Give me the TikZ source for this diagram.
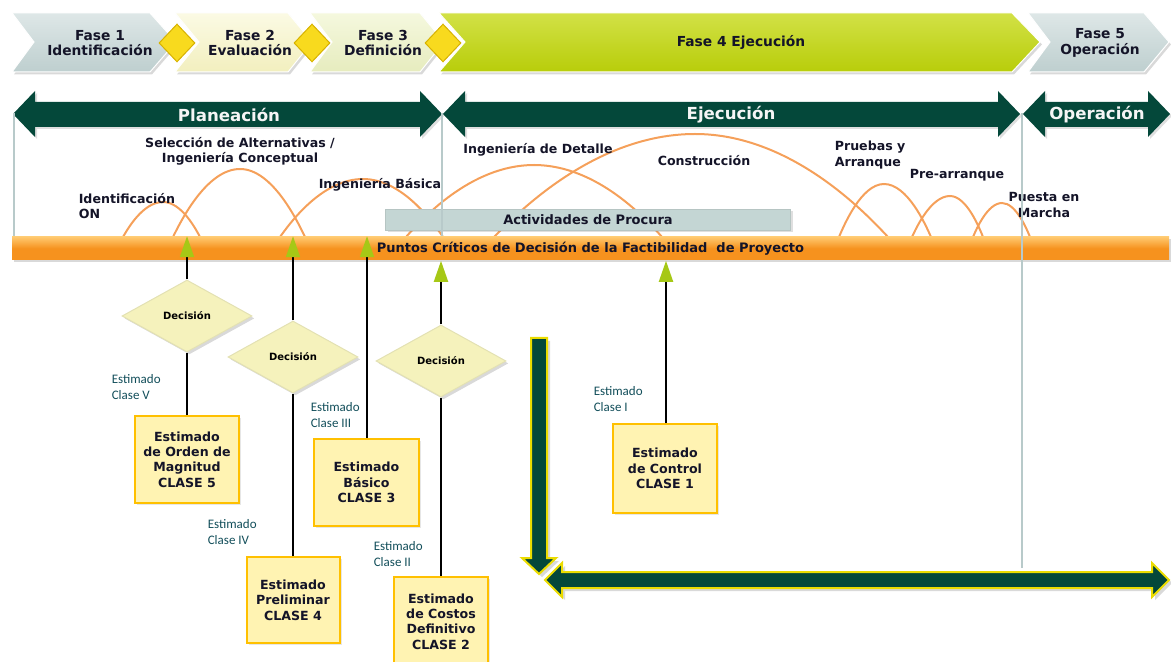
\documentclass[tikz,border=0pt]{standalone}
\usepackage{fontspec}
\setmainfont{DejaVu Sans}
\newfontfamily\calfont{Carlito}
\usetikzlibrary{shapes.geometric,
arrows.meta,
shadows,
calc,
positioning}

\definecolor{phasegray}{RGB}{190,207,207}
\definecolor{phasegraylt}{RGB}{222,231,231}
\definecolor{phasecream}{RGB}{242,239,190}
\definecolor{phasecreamlt}{RGB}{251,250,228}
\definecolor{phasepale}{RGB}{230,236,190}
\definecolor{phasepalelt}{RGB}{245,248,222}
\definecolor{phasegreen}{RGB}{184,205,10}
\definecolor{phasegreenlt}{RGB}{210,225,70}
\definecolor{gemyellow}{RGB}{248,218,30}
\definecolor{gemedge}{RGB}{215,178,0}
\definecolor{darkgreen}{RGB}{4,72,58}
\definecolor{framegray}{RGB}{184,202,202}
\definecolor{barorange}{RGB}{246,146,30}
\definecolor{barorangelt}{RGB}{255,200,110}
\definecolor{arcorange}{RGB}{245,160,90}
\definecolor{procuragray}{RGB}{196,214,212}
\definecolor{tipgreen}{RGB}{166,200,22}
\definecolor{deccream}{RGB}{245,242,188}
\definecolor{boxfill}{RGB}{255,243,178}
\definecolor{boxedge}{RGB}{255,192,0}
\definecolor{labelteal}{RGB}{18,78,90}
\definecolor{arrowedge}{RGB}{235,220,0}
\definecolor{textdark}{RGB}{20,20,40}

\begin{document}
\begin{tikzpicture} [x=0.5pt, y=-0.5pt,
    >=latex,
    thick,
    chevron/.style={draw=white, line width=0.5pt,
        drop shadow={opacity=0.3, shadow xshift=1pt, shadow yshift=-1.2pt}},
    gem/.style={diamond, fill=gemyellow, draw=gemedge, line width=0.5pt,
        inner sep=0pt, minimum width=18pt, minimum height=19pt},
    phase text/.style={align=center, text=textdark,
        font=\fontsize{6.9}{7.6}\selectfont\bfseries},
    span arrow/.style={fill=darkgreen,
        drop shadow={opacity=0.25, shadow xshift=1pt, shadow yshift=-1pt}},
    span text/.style={text=gray!8, font=\fontsize{8.3}{9}\selectfont\bfseries},
    frame line/.style={draw=framegray, line width=1.2pt},
    activity/.style={draw=arcorange, line width=1pt},
    activity text/.style={align=center, text=textdark, inner sep=0pt,
        font=\fontsize{6.3}{7.6}\selectfont\bfseries},
    decision/.style={diamond, fill=deccream, draw=deccream!85!gray,
        line width=0.5pt, inner sep=0pt,
        minimum width=65pt, minimum height=36pt,
        font=\fontsize{5}{6}\selectfont\bfseries,
        drop shadow={opacity=0.3, shadow xshift=1.2pt, shadow yshift=-1.2pt}},
    estimate/.style={rectangle, fill=boxfill, draw=boxedge, line width=1pt,
        align=center, inner sep=1pt, text=textdark,
        font=\fontsize{6.3}{7.7}\selectfont\bfseries,
        drop shadow={opacity=0.2, shadow xshift=1pt, shadow yshift=-1pt}},
    class label/.style={align=left, anchor=west, inner sep=0pt, text=labelteal,
        font=\calfont\fontsize{6.5}{8}\selectfont},
    link/.style={draw=black, line width=1pt},
    link tip/.style={link, -{Triangle[length=10.5pt, width=7pt, color=tipgreen, fill=tipgreen]}},
    big arrow/.style={fill=darkgreen, draw=arrowedge, line width=1pt,
        drop shadow={opacity=0.3, shadow xshift=1.5pt, shadow yshift=-1.5pt}}
  ]

  \useasboundingbox (0,0) rectangle (1171,662);

  %%%%%%%%%%%%%%%%%%%%%%%%%%%%%% phases

  \path[chevron, top color=phasegraylt, bottom color=phasegray]
  (12,13) -- (150,13) -- (176,42) -- (150,72) -- (12,72) -- (34,42) -- cycle;
  \path[chevron, top color=phasecreamlt, bottom color=phasecream]
  (175,13) -- (288,13) -- (312,42) -- (288,72) -- (175,72) -- (199,42) -- cycle;
  \path[chevron, top color=phasepalelt, bottom color=phasepale]
  (310,13) -- (420,13) -- (444,42) -- (420,72) -- (310,72) -- (332,42) -- cycle;
  \path[chevron, top color=phasegreenlt, bottom color=phasegreen]
  (439,13) -- (1012,13) -- (1040,42) -- (1012,72) -- (439,72) -- (465,42) -- cycle;
  \path[chevron, top color=phasegraylt, bottom color=phasegray]
  (1028,13) -- (1144,13) -- (1169,42) -- (1144,72) -- (1028,72) -- (1050,42) -- cycle;

  \node [gem] (gem1) at (177,43) {};
  \node [gem] (gem2) at (312,43) {};
  \node [gem] (gem3) at (443,43) {};

  \node [phase text] (fase1) at (100,43) {Fase 1\\Identificación};
  \node [phase text] (fase2) at (250,43) {Fase 2\\Evaluación};
  \node [phase text] (fase3) at (383,43) {Fase 3\\Definición};
  \node [phase text] (fase4) at (741,42) {Fase 4 Ejecución};
  \node [phase text] (fase5) at (1100,43) {Fase 5\\Operación};

  %%%%%%%%%%%%%%%%%%%%%%%%%%%%%% stages

  \path[span arrow] (13,114) -- (35,91) -- (35,102) -- (420,102) -- (420,91)
  -- (442,114) -- (420,137) -- (420,127) -- (35,127) -- (35,137) -- cycle;
  \path[span arrow] (443,114) -- (465,91) -- (465,102) -- (998,102) -- (998,91)
  -- (1020,114) -- (998,137) -- (998,127) -- (465,127) -- (465,137) -- cycle;
  \path[span arrow] (1023,114) -- (1045,91) -- (1045,102) -- (1148,102) -- (1148,91)
  -- (1170,114) -- (1148,137) -- (1148,127) -- (1045,127) -- (1045,137) -- cycle;

  \node [span text] (plan) at (229,115) {Planeación};
  \node [span text] (ejec) at (731,115) {Ejecución};
  \node [span text] (oper) at (1097,115) {Operación};

  %%%%%%%%%%%%%%%%%%%%%%%%%%%%%% activities

  \draw[activity] (123,237) parabola bend (163,202) (200,237);
  \draw[activity] (173,237) parabola bend (240,169) (305,237);
  \draw[activity] (280,237) parabola bend (363,179) (443,237);
  \draw[activity] (406,237) parabola bend (534,165) (662,237);
  \draw[activity] (494,237) parabola bend (695,134) (888,237);
  \draw[activity] (839,237) parabola bend (884,184) (931,237);
  \draw[activity] (912,237) parabola bend (950,196) (983,237);
  \draw[activity] (973,237) parabola bend (1002,203) (1030,237);

  \node [activity text, align=left, anchor=west] (ident) at (78,206) {Identificación\\ON};
  \node [activity text] (selec) at (240,151) {Selección de Alternativas /\\Ingeniería Conceptual};
  \node [activity text, anchor=west] (basica) at (318,185) {Ingeniería Básica};
  \node [activity text] (detalle) at (538,150) {Ingeniería de Detalle};
  \node [activity text] (constr) at (704,161) {Construcción};
  \node [activity text, align=left, anchor=west] (pruebas) at (834,155) {Pruebas y\\Arranque};
  \node [activity text] (prearr) at (957,175) {Pre-arranque};
  \node [activity text] (puesta) at (1044,205) {Puesta en\\Marcha};

  \node [rectangle, fill=procuragray, draw=procuragray!80!gray, line width=0.5pt,
    minimum width=202.5pt, minimum height=10.5pt, inner sep=0pt,
    font=\fontsize{6.5}{7}\selectfont\bfseries, text=textdark,
    drop shadow={opacity=0.25, shadow xshift=1pt, shadow yshift=-1pt}
  ] (procura) at (588,220) {Actividades de Procura};

  \draw[frame line] (14,113) -- (14,238);
  \draw[frame line] (442,113) -- (442,237);

  \node [rectangle, top color=barorangelt, bottom color=barorange,
    middle color=barorange, minimum width=578.5pt, minimum height=11.5pt,
    inner sep=0pt, font=\fontsize{6.5}{7}\selectfont\bfseries, text=textdark,
    drop shadow={opacity=0.3, shadow xshift=1pt, shadow yshift=-1.2pt}
  ] (bar) at (590.5,248.5) {Puntos Críticos de Decisión de la Factibilidad\ \ de Proyecto};

  \draw[frame line] (1022,113) -- (1022,568);

  %%%%%%%%%%%%%%%%%%%%%%%%%%%%%% decisions and estimates

  \node [decision] (dec1) at (187,316) {Decisión};
  \node [decision] (dec2) at (293,357) {Decisión};
  \node [decision] (dec3) at (441,361) {Decisión};

  \node [estimate, minimum width=52pt, minimum height=43.5pt] (est5) at (187,459.5)
  {Estimado\\de Orden de\\Magnitud\\CLASE 5};
  \node [estimate, minimum width=46.5pt, minimum height=43pt] (est4) at (293,600)
  {Estimado\\Preliminar\\CLASE 4};
  \node [estimate, minimum width=52.5pt, minimum height=43.5pt] (est3) at (366.5,482.5)
  {Estimado\\Básico\\CLASE 3};
  \node [estimate, minimum width=47pt, minimum height=44.5pt] (est2) at (441,621.5)
  {Estimado\\de Costos\\Definitivo\\CLASE 2};
  \node [estimate, minimum width=52pt, minimum height=44.5pt] (est1) at (665,468.5)
  {Estimado\\de Control\\CLASE 1};

  \draw[link] (est5) -- (dec1);
  \draw[link tip] (dec1) -- (dec1 |- bar.north);
  \draw[link] (est4) -- (dec2);
  \draw[link tip] (dec2) -- (dec2 |- bar.north);
  \draw[link tip] ($(est3.north)+(0.5,0)$) -- ($(est3.north |- bar.north)+(0.5,0)$);
  \draw[link] (est2) -- (dec3);
  \draw[link tip] (dec3) -- (dec3 |- bar.south);
  \draw[link tip] ($(est1.north)+(1,0)$) -- ($(est1.north |- bar.south)+(1,0)$);

  \node [class label] (cl5) at (111,387) {Estimado\\Clase V};
  \node [class label] (cl4) at (207,532) {Estimado\\Clase IV};
  \node [class label] (cl3) at (310,415) {Estimado\\Clase III};
  \node [class label] (cl2) at (373,554) {Estimado\\Clase II};
  \node [class label] (cl1) at (593,399) {Estimado\\Clase I};

  %%%%%%%%%%%%%%%%%%%%%%%%%%%%%% bottom arrows

  \filldraw[big arrow] (531,338) -- (547,338) -- (547,558) -- (556,558)
  -- (539,574) -- (522,558) -- (531,558) -- cycle;
  \filldraw[big arrow] (545,580) -- (562,563) -- (562,572) -- (1152,572)
  -- (1152,563) -- (1169,580) -- (1152,597) -- (1152,588) -- (562,588)
  -- (562,597) -- cycle;

\end{tikzpicture}
\end{document}
